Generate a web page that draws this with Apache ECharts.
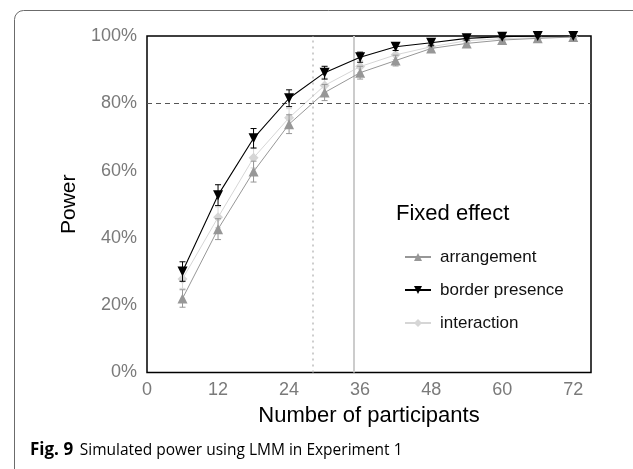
<!DOCTYPE html>
<html>
<head>
<meta charset="utf-8">
<script src="https://cdn.jsdelivr.net/npm/echarts@6/dist/echarts.min.js"></script>
<style>
html,body{margin:0;padding:0;background:#fff;}
#chart{width:633px;height:469px;}
</style>
</head>
<body>
<div id="chart"></div>
<script>
// ---- data ----
const participants = [6, 12, 18, 24, 30, 36, 42, 48, 54, 60, 66, 72];
const arrangement = [22.0, 42.6, 59.7, 73.8, 83.2, 89.1, 92.7, 96.3, 97.8, 98.8, 99.3, 99.7];
const borderPresence = [30.0, 52.7, 69.6, 81.5, 89.1, 93.7, 96.8, 98.0, 99.3, 99.8, 100, 100];
const interaction = [27.8, 46.1, 63.8, 75.7, 85.3, 90.9, 94.4, 96.8, 98.6, 99.2, 99.5, 99.7];
// error-bar half widths (percentage points)
const arrangementErr = [2.6, 3.1, 3.1, 2.8, 2.4, 1.9, 1.6, 1.2, 0.9, 0.7, 0.5, 0.3];
const borderPresenceErr = [2.9, 3.1, 2.9, 2.5, 1.9, 1.5, 1.1, 0.9, 0.5, 0.3, 0.2, 0.1];
const interactionErr = [2.8, 3.1, 3.0, 2.7, 2.2, 1.8, 1.4, 1.1, 0.8, 0.5, 0.4, 0.3];
const xTicks = [0, 12, 24, 36, 48, 60, 72];
const yTicks = [0, 20, 40, 60, 80, 100];
const seriesNames = ['arrangement', 'border presence', 'interaction'];
const powerTarget = 80;
const dottedX = 28;
const solidX = 35;

const chart = echarts.init(document.getElementById('chart'), null, {renderer: 'canvas'});
const FONT = '"Liberation Sans", Arial, Helvetica, sans-serif';

function pairs(vals, errs) {
  return participants.map((p, i) => [p, vals[i], errs[i]]);
}
function errSeries(name, vals, errs, color, z) {
  return {
    type: 'custom',
    name: name + ' err',
    z: z,
    silent: true,
    data: pairs(vals, errs),
    encode: {x: 0, y: 1},
    renderItem: function (params, api) {
      const x = api.value(0), y = api.value(1), e = api.value(2);
      const top = api.coord([x, Math.min(100, y + e)]);
      const bot = api.coord([x, y - e]);
      const hw = 3;
      const st = {stroke: color, lineWidth: 1};
      return {
        type: 'group',
        children: [
          {type: 'line', shape: {x1: top[0], y1: top[1], x2: bot[0], y2: bot[1]}, style: st},
          {type: 'line', shape: {x1: top[0] - hw, y1: top[1], x2: top[0] + hw, y2: top[1]}, style: st},
          {type: 'line', shape: {x1: bot[0] - hw, y1: bot[1], x2: bot[0] + hw, y2: bot[1]}, style: st}
        ]
      };
    }
  };
}

const colors = {arr: '#979797', bp: '#000000', inter: '#d6d6d6'};

const option = {
  animation: false,
  grid: {left: 147, top: 36, right: 42, bottom: 96.5, show: true, borderColor: '#000', borderWidth: 1.5, backgroundColor: 'transparent'},
  xAxis: {
    type: 'value', min: 0, max: 75, interval: 12,
    axisLine: {show: false}, axisTick: {show: false}, splitLine: {show: false},
    axisLabel: {
      color: '#7a7a7a', fontSize: 18, fontFamily: FONT, margin: 9,
      formatter: v => xTicks.includes(v) ? String(v) : ''
    },
    name: 'Number of participants', nameLocation: 'middle', nameGap: 32,
    nameTextStyle: {color: '#000', fontSize: 22, fontFamily: FONT}
  },
  yAxis: {
    type: 'value', min: 0, max: 100, interval: 20,
    axisLine: {show: false}, axisTick: {show: false}, splitLine: {show: false},
    axisLabel: {
      color: '#7a7a7a', fontSize: 18, fontFamily: FONT, margin: 10,
      formatter: v => yTicks.includes(v) ? v + '%' : ''
    },
    name: 'Power', nameLocation: 'middle', nameGap: 60,
    nameTextStyle: {color: '#000', fontSize: 21, fontFamily: FONT}
  },
  legend: {
    data: seriesNames,
    orient: 'vertical', left: 399, top: 242,
    itemWidth: 26, itemHeight: 10, itemGap: 13,
    textStyle: {color: '#111', fontSize: 17, fontFamily: FONT, lineHeight: 20, padding: [0, 0, 0, 4]},
    selectedMode: false
  },
  graphic: [
    {type: 'rect', shape: {x: 14.5, y: 10.5, width: 700, height: 600, r: 9}, style: {fill: 'none', stroke: '#6b6b6b', lineWidth: 1}, silent: true},
    {type: 'text', left: 396, top: 203, style: {text: 'Fixed effect', fill: '#000', font: '22px ' + FONT}, silent: true},
    {type: 'text', left: 30, top: 442, style: {
      text: '{b|Fig. 9}  {n|Simulated power using LMM in Experiment 1}',
      rich: {
        b: {fontWeight: 'bold', fontSize: 17, fontFamily: '"Open Sans", sans-serif', fill: '#000'},
        n: {fontSize: 15.5, fontFamily: '"Open Sans", sans-serif', fill: '#000'}
      }
    }, silent: true}
  ],
  series: [
    {
      type: 'line', name: 'ref', data: [], silent: true, z: 1,
      markLine: {
        silent: true, symbol: 'none', label: {show: false},
        data: [
          {yAxis: powerTarget, lineStyle: {color: '#555', type: [5, 4], width: 1.2}},
          {xAxis: dottedX, lineStyle: {color: '#bdbdbd', type: [2, 4], width: 1.5}},
          {xAxis: solidX, lineStyle: {color: '#cccccc', type: 'solid', width: 2}}
        ]
      }
    },
    errSeries('interaction', interaction, interactionErr, colors.inter, 3),
    {
      type: 'line', name: 'interaction', z: 4,
      data: participants.map((p, i) => [p, interaction[i]]),
      symbol: 'diamond', symbolSize: 10,
      lineStyle: {color: colors.inter, width: 1}, itemStyle: {color: colors.inter}
    },
    errSeries('arrangement', arrangement, arrangementErr, colors.arr, 5),
    {
      type: 'line', name: 'arrangement', z: 6,
      data: participants.map((p, i) => [p, arrangement[i]]),
      symbol: 'triangle', symbolSize: 10,
      lineStyle: {color: colors.arr, width: 1}, itemStyle: {color: colors.arr}
    },
    errSeries('border presence', borderPresence, borderPresenceErr, colors.bp, 7),
    {
      type: 'line', name: 'border presence', z: 8,
      data: participants.map((p, i) => [p, borderPresence[i]]),
      symbol: 'triangle', symbolRotate: 180, symbolSize: 10,
      lineStyle: {color: colors.bp, width: 1.1}, itemStyle: {color: colors.bp}
    }
  ]
};
chart.setOption(option);
</script>
</body>
</html>
